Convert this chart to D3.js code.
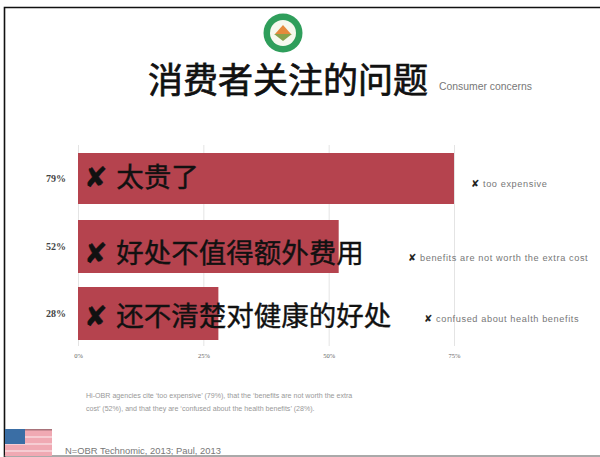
<!DOCTYPE html>
<html>
<head>
<meta charset="utf-8">
<script src="https://cdn.jsdelivr.net/npm/d3@7/dist/d3.min.js"></script>
<style>
  html, body { margin: 0; padding: 0; background: #fff; }
  svg { display: block; }
  text { font-family: "Liberation Sans", sans-serif; }
</style>
</head>
<body>
<svg id="chart" width="600" height="457"></svg>
<script>
const shares = [79, 52, 28];
const zhLabels = ["太贵了", "好处不值得额外费用", "还不清楚对健康的好处"];
const enLabels = ["too expensive", "benefits are not worth the extra cost", "confused about health benefits"];
const enLabelStarts = [471, 408, 424];
const tickValues = [0, 25, 50, 75];
const footnote = [
  "Hi-OBR agencies cite \u2018too expensive\u2019 (79%), that the \u2018benefits are not worth the extra",
  "cost\u2019 (52%), and that they are \u2018confused about the health benefits\u2019 (28%)."
];
const sourceNote = "N=OBR Technomic, 2013; Paul, 2013";

const svg = d3.select("#chart");
const cjk = '"Noto Sans CJK SC", sans-serif';
const mark = "\u2718";

// Slide frame
svg.append("path")
  .attr("d", "M4.5,457V7.5H600")
  .attr("fill", "none").attr("stroke", "#111").attr("stroke-width", 1.6);
svg.append("line")
  .attr("x1", 4).attr("x2", 600).attr("y1", 456).attr("y2", 456)
  .attr("stroke", "#555").attr("stroke-width", 1);

// Emblem above the heading
const emblem = svg.append("g").attr("transform", "translate(283,33)");
emblem.append("circle").attr("r", 19.5).attr("fill", "#2f9e5b");
emblem.append("circle").attr("r", 13).attr("fill", "#f6f8ee");
emblem.append("path").attr("d", "M-8,1L0,-8L8,1Z").attr("fill", "#e58a3c");
emblem.append("path").attr("d", "M-9,1L0,8L9,1Z").attr("fill", "#86a24c");

// Heading
svg.append("text").attr("x", 148).attr("y", 93)
  .style("font-family", cjk).style("font-size", "35px")
  .attr("fill", "#111").attr("stroke", "#111").attr("stroke-width", 0.7)
  .text("消费者关注的问题");
svg.append("text").attr("x", 439).attr("y", 90)
  .style("font-size", "10.4px").attr("fill", "#777").text("Consumer concerns");

// Scales: the axis stops at 75%, so the longest bar is cut off at its end
const x = d3.scaleLinear().domain([0, 75]).range([78, 454]).clamp(true);

// Vertical grid lines and axis
const axis = d3.axisBottom(x).tickValues(tickValues).tickSize(-201).tickPadding(7).tickFormat(d => d + "%");
const axisG = svg.append("g").attr("transform", "translate(0,346)").call(axis);
axisG.select(".domain").remove();
axisG.selectAll("line").attr("stroke", "#e4e4e4");
axisG.selectAll("text").style("font-size", "6.5px").style("font-family", '"Liberation Serif", serif').attr("fill", "#666");

// Bars
const barTops = [153, 220, 287];
const barHeights = [51, 53, 53];
svg.selectAll("rect.bar").data(shares).join("rect")
  .attr("class", "bar")
  .attr("x", x(0))
  .attr("y", (d, i) => barTops[i])
  .attr("width", d => x(d) - x(0))
  .attr("height", (d, i) => barHeights[i])
  .attr("fill", "#b5434e");

// Percentage labels left of the bars
svg.selectAll("text.pct").data(shares).join("text")
  .attr("class", "pct")
  .attr("x", 66)
  .attr("y", (d, i) => barTops[i] + barHeights[i] / 2 + 3)
  .attr("text-anchor", "end")
  .style("font-family", '"Liberation Serif", serif')
  .style("font-size", "10px").style("font-weight", 700)
  .attr("fill", "#444")
  .text(d => d + "%");

// Chinese captions inside the bars
svg.selectAll("text.zh").data(zhLabels).join("text")
  .attr("class", "zh")
  .attr("x", 84)
  .attr("y", (d, i) => [187, 263, 326][i])
  .style("font-family", cjk).style("font-size", "27.5px")
  .attr("fill", "#111").attr("stroke", "#111").attr("stroke-width", 0.4)
  .style("word-spacing", "3px")
  .text(d => mark + " " + d);

// English captions to the right
const enText = svg.selectAll("text.en").data(enLabels).join("text")
  .attr("class", "en")
  .attr("x", (d, i) => enLabelStarts[i])
  .attr("y", (d, i) => [187, 261, 322][i])
  .style("font-size", "9.2px")
  .style("letter-spacing", "0.6px")
  .attr("fill", "#777");
enText.append("tspan").attr("fill", "#222").style("font-size", "10px").text(mark + " ");
enText.append("tspan").text(d => d);

// Footnote and source
svg.selectAll("text.note").data(footnote).join("text")
  .attr("class", "note")
  .attr("x", 86)
  .attr("y", (d, i) => 398 + i * 12.5)
  .style("font-size", "7.1px")
  .attr("fill", "#999")
  .text(d => d);
svg.append("text").attr("x", 65).attr("y", 454)
  .style("font-size", "9.4px").attr("fill", "#777").text(sourceNote);

// Flag in the bottom corner
const flag = svg.append("g").attr("transform", "translate(5,429)");
flag.append("rect").attr("width", 47).attr("height", 27).attr("fill", "#f0a9b3");
flag.selectAll("rect.stripe").data([7, 14, 21]).join("rect")
  .attr("class", "stripe").attr("y", d => d).attr("width", 47).attr("height", 2).attr("fill", "#f6cdd3");
flag.append("rect").attr("width", 47).attr("height", 1.5).attr("fill", "#a8737a");
flag.append("rect").attr("width", 20).attr("height", 15).attr("fill", "#3a6ea5");
</script>
</body>
</html>
